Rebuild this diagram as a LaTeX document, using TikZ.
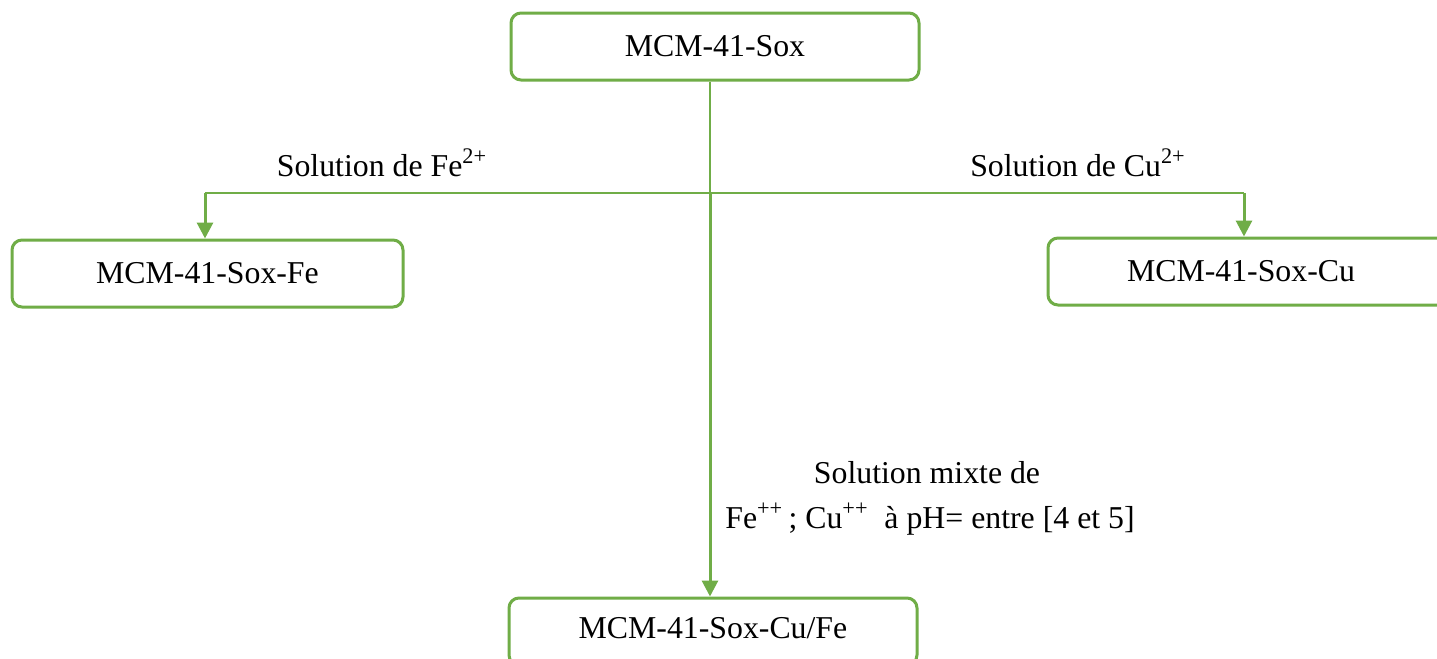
\documentclass[tikz,border=0pt]{standalone}
\usepackage{fontspec}
\setmainfont{Liberation Serif}
\usetikzlibrary{arrows.meta}
\definecolor{ogreen}{HTML}{70AD47}
\begin{document}
\begin{tikzpicture}[x=0.5pt,y=-0.5pt,
  box/.style={draw=ogreen,line width=1.5pt,rounded corners=5pt,fill=white,
    minimum height=33.5pt,inner sep=0pt,font=\fontsize{15.9}{19}\selectfont},
  lbl/.style={inner sep=0pt,font=\fontsize{15.9}{19}\selectfont,align=center},
  thin/.style={draw=ogreen,line width=0.75pt},
  arr/.style={draw=ogreen,line width=1.5pt,-{Triangle[width=8pt,length=8pt]}}]
\clip (0,0) rectangle (1437,659);
\fill[white] (0,0) rectangle (1437,659);
\node[box,minimum width=204pt] (top) at (715,46.5) {MCM-41-Sox};
\node[box,minimum width=195.5pt] (fe) at (207.5,273.5) {MCM-41-Sox-Fe};
\node[box,minimum width=201pt] (cu) at (1249,271.5) {\hspace*{-8pt}MCM-41-Sox-Cu};
\node[box,minimum width=204pt] (cufe) at (713,631.5) {\raisebox{4pt}{MCM-41-Sox-Cu/Fe}};
\coordinate (j) at (710,193);
\coordinate (jl) at (205,193);
\coordinate (jr) at (1244,193);
\draw[thin] (j |- top.south) -- (j);
\draw[thin] (jl) -- (jr);
\draw[arr] (jl) -- (jl |- fe.north);
\draw[arr] (jr) -- (jr |- cu.north);
\draw[arr] (j) -- (j |- cufe.north);
\node[lbl] (lfe) at (382,163) {Solution de Fe\textsuperscript{2+}};
\node[lbl] (lcu) at (1078,163) {Solution de Cu\textsuperscript{2+}};
\node[lbl] (lm1) at (927,473) {Solution mixte de};
\node[lbl] (lm2) at (930,519) {Fe\textsuperscript{++}\,; Cu\textsuperscript{++}~ à pH= entre [4 et 5]};
\end{tikzpicture}
\end{document}
